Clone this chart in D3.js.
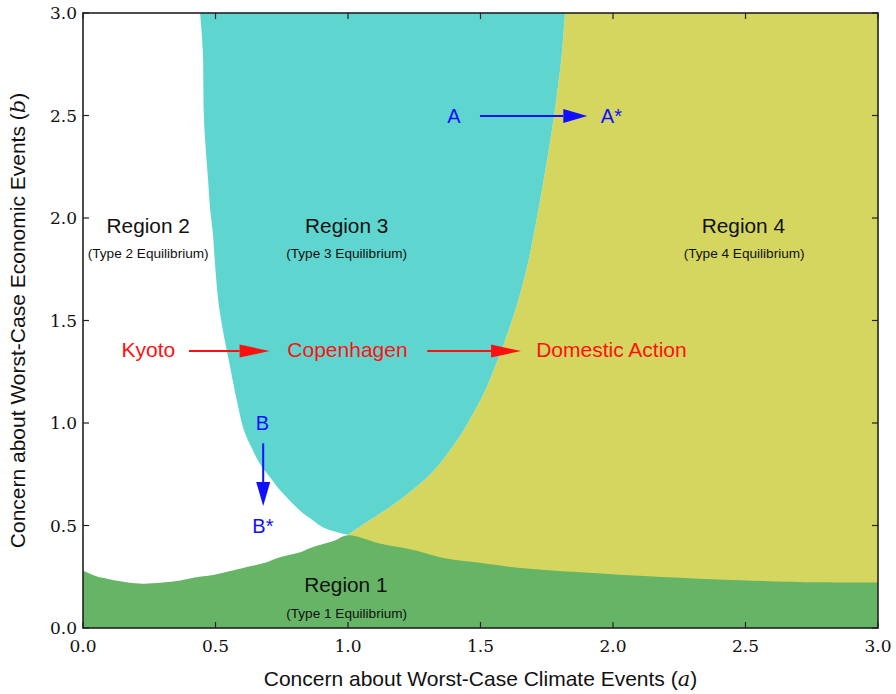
<!DOCTYPE html>
<html><head><meta charset="utf-8">
<script src="https://cdn.jsdelivr.net/npm/d3@7"></script>
<style>body{margin:0;background:#fff}</style>
</head><body><svg id="c" width="896" height="694"></svg>
<script>
// ---- data ----
const xTicks = [0, 0.5, 1.0, 1.5, 2.0, 2.5, 3.0];
const yTicks = [0, 0.5, 1.0, 1.5, 2.0, 2.5, 3.0];
const xDomain = [0, 3];
const yDomain = [0, 3];
// upper boundary of Region 1 (green): [a, b]
const greenTop = [
  [0.0,0.28],[0.05,0.252],[0.1,0.238],[0.17,0.222],[0.226,0.216],[0.3,0.222],[0.366,0.232],
  [0.44,0.25],[0.491,0.259],[0.566,0.28],[0.618,0.297],[0.69,0.32],[0.743,0.345],[0.82,0.37],
  [0.868,0.395],[0.945,0.424],[1.0,0.452],[1.12,0.412],[1.247,0.38],[1.347,0.345],[1.416,0.33],
  [1.504,0.317],[1.608,0.299],[1.744,0.283],[1.907,0.27],[2.117,0.254],[2.398,0.237],
  [2.775,0.223],[3.0,0.222]
];
// left boundary of Region 3 (cyan): [b, a]
const cyanLeft = [
  [0.455,1.0],[0.465,0.965],[0.49,0.906],[0.527,0.866],[0.56,0.83],[0.615,0.785],[0.673,0.743],
  [0.74,0.703],[0.80,0.668],[0.88,0.636],[0.966,0.607],[1.112,0.58],[1.275,0.555],[1.437,0.53],
  [1.60,0.51],[1.78,0.498],[1.927,0.49],[2.04,0.48],[2.185,0.472],[2.36,0.462],[2.5,0.456],
  [2.82,0.452],[3.0,0.442]
];
// right boundary of Region 3 (cyan / yellow): [b, a]
const cyanRight = [
  [0.455,1.0],[0.49,1.04],[0.527,1.083],[0.575,1.14],[0.624,1.196],[0.68,1.25],[0.737,1.30],
  [0.803,1.347],[0.884,1.394],[0.966,1.437],[1.047,1.473],[1.112,1.50],[1.21,1.535],[1.356,1.579],
  [1.44,1.603],[1.60,1.643],[1.763,1.676],[1.927,1.702],[2.088,1.725],[2.25,1.747],[2.4,1.766],
  [2.5,1.778],[2.62,1.79],[2.8,1.807],[3.0,1.819]
];
const regionNames = ["Region 1","Region 2","Region 3","Region 4"];
const regionSubs = ["(Type 1 Equilibrium)","(Type 2 Equilibrium)","(Type 3 Equilibrium)","(Type 4 Equilibrium)"];
const regionPos = [[0.992,0.176],[0.246,1.925],[0.995,1.925],[2.492,1.925]];
const subPos = [[0.995,0.049],[0.246,1.805],[0.995,1.805],[2.495,1.805]];
const redLabels = ["Kyoto","Copenhagen","Domestic Action"];
const redPos = [[0.247,1.322],[0.998,1.322],[1.994,1.322]];
const redArrows = [[[0.40,1.351],[0.704,1.351]],[[1.299,1.351],[1.653,1.351]]];
const blueLabels = ["A","A*","B","B*"];
const bluePos = [[1.40,2.465],[1.994,2.465],[0.677,0.966],[0.679,0.465]];
const blueArrows = [[[1.498,2.498],[1.903,2.498]],[[0.68,0.901],[0.68,0.595]]];

// ---- drawing ----
const m = {l:83, r:878, t:13, b:628};
const svg = d3.select("#c");
const x = d3.scaleLinear().domain(xDomain).range([m.l, m.r]);
const y = d3.scaleLinear().domain(yDomain).range([m.b, m.t]);

const cCyan = "#5fd5cf", cYellow = "#d5d65f", cGreen = "#66b566";
const cRed = "#ff1010", cBlue = "#1010ff";
const sans = "'Liberation Sans', Arial, Helvetica, sans-serif";
const serif = "'DejaVu Serif', serif";

svg.append("clipPath").attr("id", "plotclip").append("rect")
  .attr("x", m.l).attr("y", m.t).attr("width", m.r - m.l).attr("height", m.b - m.t);

const g = svg.append("g");
const gr = g.append("g").attr("clip-path", "url(#plotclip)");
gr.append("rect").attr("x", m.l).attr("y", m.t).attr("width", m.r-m.l).attr("height", m.b-m.t).attr("fill", "#fff");

const line = d3.line().x(d => x(d[0])).y(d => y(d[1]));
const smooth = d3.line().x(d => x(d[0])).y(d => y(d[1])).curve(d3.curveCatmullRom.alpha(0.5));

// yellow region (right of cyan right boundary)
const yellowPath = smooth(cyanRight.map(d => [d[1], d[0]])) +
  line([[xDomain[1], yDomain[1]], [xDomain[1], yDomain[0]], [1.0, yDomain[0]], [1.0, 0.455]]).replace(/^M/, "L") + "Z";
gr.append("path").attr("d", yellowPath).attr("fill", cYellow);

// cyan region
const cyanPath = smooth(cyanLeft.map(d => [d[1], d[0]])) +
  smooth(cyanRight.slice().reverse().map(d => [d[1], d[0]])).replace(/^M/, "L") + "Z";
gr.append("path").attr("d", cyanPath).attr("fill", cCyan);

// green region
const area = d3.area().x(d => x(d[0])).y0(y(yDomain[0])).y1(d => y(d[1])).curve(d3.curveCatmullRom.alpha(0.5));
gr.append("path").attr("d", area(greenTop)).attr("fill", cGreen);

// region labels
regionNames.forEach((t, i) => {
  g.append("text").attr("x", x(regionPos[i][0])).attr("y", y(regionPos[i][1]))
    .attr("text-anchor", "middle").attr("font-family", sans).attr("font-size", 20.8)
    .attr("fill", "#111").text(t);
  g.append("text").attr("x", x(subPos[i][0])).attr("y", y(subPos[i][1]))
    .attr("text-anchor", "middle").attr("font-family", sans).attr("font-size", 13.6)
    .attr("fill", "#111").text(regionSubs[i]);
});

function arrow(p0, p1, color, head, half) {
  const x0 = x(p0[0]), y0 = y(p0[1]), x1 = x(p1[0]), y1 = y(p1[1]);
  const dx = x1 - x0, dy = y1 - y0, L = Math.hypot(dx, dy);
  const ux = dx / L, uy = dy / L;
  const bx = x1 - ux * head, by = y1 - uy * head;
  g.append("line").attr("x1", x0).attr("y1", y0).attr("x2", bx).attr("y2", by)
    .attr("stroke", color).attr("stroke-width", 2);
  g.append("path").attr("d", `M${x1},${y1}L${bx - uy*half},${by + ux*half}L${bx + uy*half},${by - ux*half}Z`)
    .attr("fill", color);
}

redLabels.forEach((t, i) => {
  g.append("text").attr("x", x(redPos[i][0])).attr("y", y(redPos[i][1]))
    .attr("text-anchor", "middle").attr("font-family", sans).attr("font-size", 21)
    .attr("fill", cRed).text(t);
});
redArrows.forEach(a => arrow(a[0], a[1], cRed, 30, 6.5));

blueLabels.forEach((t, i) => {
  g.append("text").attr("x", x(bluePos[i][0])).attr("y", y(bluePos[i][1]))
    .attr("text-anchor", "middle").attr("font-family", sans).attr("font-size", 20)
    .attr("fill", cBlue).text(t);
});
blueArrows.forEach(a => arrow(a[0], a[1], cBlue, 24, 7));

// frame
svg.append("rect").attr("x", m.l).attr("y", m.t).attr("width", m.r-m.l).attr("height", m.b-m.t)
  .attr("fill", "none").attr("stroke", "#222").attr("stroke-width", 1.6);

// ticks (inward, all sides)
const tl = 6;
const ax = svg.append("g").attr("stroke", "#222").attr("stroke-width", 1.2);
xTicks.forEach(v => {
  ax.append("line").attr("x1", x(v)).attr("x2", x(v)).attr("y1", m.b).attr("y2", m.b - tl);
  ax.append("line").attr("x1", x(v)).attr("x2", x(v)).attr("y1", m.t).attr("y2", m.t + tl);
});
yTicks.forEach(v => {
  ax.append("line").attr("y1", y(v)).attr("y2", y(v)).attr("x1", m.l).attr("x2", m.l + tl);
  ax.append("line").attr("y1", y(v)).attr("y2", y(v)).attr("x1", m.r).attr("x2", m.r - tl);
});
const fmt = d3.format(".1f");
xTicks.forEach(v => {
  svg.append("text").attr("x", x(v)).attr("y", 652).attr("text-anchor", "middle")
    .attr("font-family", serif).attr("font-size", 17).attr("fill", "#111").text(fmt(v));
});
yTicks.forEach(v => {
  svg.append("text").attr("x", 77).attr("y", y(v)).attr("dy", "0.36em").attr("text-anchor", "end")
    .attr("font-family", serif).attr("font-size", 17).attr("fill", "#111").text(fmt(v));
});

// axis titles
const xt = svg.append("text").attr("x", (m.l + m.r) / 2).attr("y", 686).attr("text-anchor", "middle")
  .attr("font-family", sans).attr("font-size", 21).attr("fill", "#111");
xt.append("tspan").text("Concern about Worst-Case Climate Events (");
xt.append("tspan").attr("font-family", serif).attr("font-style", "italic").text("a");
xt.append("tspan").text(")");

const yt = svg.append("text").attr("transform", `translate(25,${(m.t + m.b) / 2}) rotate(-90)`)
  .attr("text-anchor", "middle").attr("font-family", sans).attr("font-size", 21).attr("fill", "#111");
yt.append("tspan").text("Concern about Worst-Case Economic Events (");
yt.append("tspan").attr("font-family", serif).attr("font-style", "italic").text("b");
yt.append("tspan").text(")");
</script>
</body></html>
